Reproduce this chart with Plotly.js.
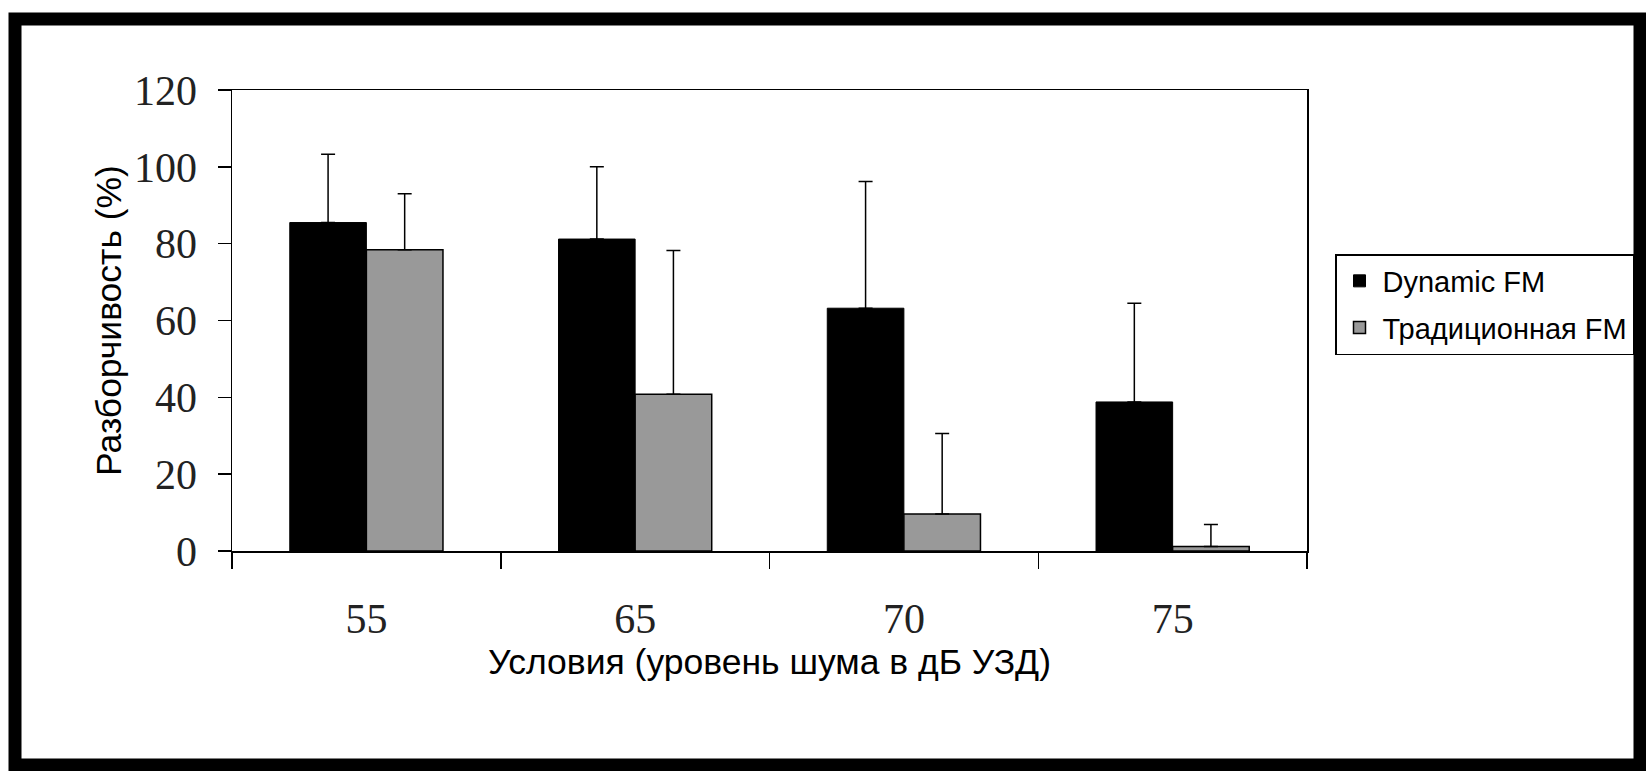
<!DOCTYPE html>
<html>
<head>
<meta charset="utf-8">
<script src="https://cdn.plot.ly/plotly-3.0.1.min.js"></script>
<style>
html,body{margin:0;padding:0;background:#fff;}
#chart{width:1646px;height:771px;}
</style>
</head>
<body>
<div id="chart"></div>
<script>
// Data
var categories = ['55', '65', '70', '75'];
var seriesNames = ['Dynamic FM', 'Традиционная FM'];
var dynamicFM = [85.5, 81.2, 63.2, 38.8];
var dynamicFMErr = [17.8, 18.8, 33.0, 25.7];
var traditionalFM = [78.4, 40.8, 9.6, 1.2];
var traditionalFMErr = [14.6, 37.4, 21.0, 5.7];
var yTickVals = [0, 20, 40, 60, 80, 100, 120];
var yTickText = ['0', '20', '40', '60', '80', '100', '120'];
var xTitle = 'Условия (уровень шума в дБ УЗД)';
var yTitle = 'Разборчивость (%)';

var sansFont = 'Liberation Sans, Arial, sans-serif';
var serifFont = 'Liberation Serif, Times New Roman, serif';

var traces = [
  {
    type: 'bar', name: seriesNames[0], x: categories, y: dynamicFM, legendgroup: 'g1',
    marker: {color: '#000000', line: {color: '#000000', width: 1}},
    error_y: {type: 'data', symmetric: false, array: dynamicFMErr, arrayminus: [0,0,0,0],
              color: '#000000', thickness: 1.5, width: 7}
  },
  {
    type: 'bar', name: seriesNames[1], x: categories, y: traditionalFM, legendgroup: 'g2',
    marker: {color: '#999999', line: {color: '#000000', width: 1.5}},
    error_y: {type: 'data', symmetric: false, array: traditionalFMErr, arrayminus: [0,0,0,0],
              color: '#000000', thickness: 1.5, width: 7}
  }
];

var W = 1646, H = 771;
var L = 232, R = 1307, T = 90, B = 551;
function px(x){ return (x - L) / (R - L); }
function py(y){ return (B - y) / (B - T); }

var layout = {
  width: W, height: H,
  paper_bgcolor: '#ffffff', plot_bgcolor: '#ffffff',
  margin: {l: L, r: W - R, t: T, b: H - B, pad: 0},
  barmode: 'group', bargap: 0.43, bargroupgap: 0,
  showlegend: true,
  legend: {
    x: px(1335), y: py(254), xanchor: 'left', yanchor: 'top',
    bgcolor: '#ffffff', bordercolor: '#000000', borderwidth: 1.5,
    font: {family: sansFont, size: 29, color: '#000000'},
    traceorder: 'grouped', tracegroupgap: 6, itemwidth: 36
  },
  xaxis: {
    type: 'category', categoryorder: 'array', categoryarray: categories,
    showline: true, linecolor: '#000000', linewidth: 1.5, mirror: true,
    ticks: 'outside', tickson: 'boundaries', ticklen: 16, tickwidth: 1.5, tickcolor: '#000000',
    ticklabelstandoff: 30,
    tickfont: {family: serifFont, size: 42, color: '#222222'},
    showgrid: false, zeroline: false,
    title: {text: xTitle, font: {family: sansFont, size: 35.5, color: '#000000'}, standoff: 6}
  },
  yaxis: {
    range: [0, 120], tickmode: 'array', tickvals: yTickVals, ticktext: yTickText,
    showline: true, linecolor: '#000000', linewidth: 1.5, mirror: true,
    ticks: 'outside', ticklen: 13, tickwidth: 1.5, tickcolor: '#000000',
    ticklabelstandoff: 12,
    tickfont: {family: serifFont, size: 42, color: '#222222'},
    showgrid: false, zeroline: false,
    title: {text: yTitle, font: {family: sansFont, size: 35.5, color: '#000000'}, standoff: 1}
  },
  shapes: [
    {type: 'rect', xref: 'paper', yref: 'paper', layer: 'above',
     x0: px(15), x1: px(1640), y0: py(19), y1: py(765),
     line: {color: '#000000', width: 13}, fillcolor: 'rgba(0,0,0,0)'}
  ]
};

Plotly.newPlot('chart', traces, layout, {displayModeBar: false, staticPlot: true});
</script>
</body>
</html>
